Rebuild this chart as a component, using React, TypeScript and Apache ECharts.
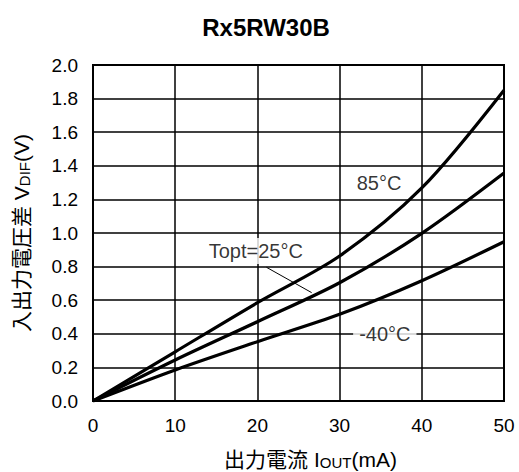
import React, { useEffect, useRef } from "react";
import * as echarts from "echarts";

const xValues = [0, 10, 20, 30, 40, 50];
const v85 = [0, 0.293, 0.585, 0.863, 1.268, 1.85];
const v25 = [0, 0.244, 0.472, 0.704, 0.998, 1.357];
const vm40 = [0, 0.185, 0.353, 0.516, 0.716, 0.948];
const labels = [
  { text: "85°C", x: 34.8, y: 1.298 },
  { text: "Topt=25°C", x: 19.8, y: 0.893 },
  { text: "-40°C", x: 35.5, y: 0.399 },
];
const leader = [
  [21.1, 0.796],
  [26.6, 0.645],
];

const FONT = "'Liberation Sans', Arial, 'Noto Sans CJK JP', sans-serif";

export default function App() {
  const ref = useRef<HTMLDivElement>(null);
  useEffect(() => {
    if (!ref.current) return;
    const chart = echarts.init(ref.current, null, { renderer: "svg" });
    const mk = (vals: number[]) => xValues.map((x, i) => [x, vals[i]]);
    const lineSeries = (vals: number[]) => ({
      type: "line",
      data: mk(vals),
      smooth: 0.3,
      symbol: "none",
      lineStyle: { color: "#000", width: 3.2 },
      z: 3,
    });
    const rich = {
      a: { fontSize: 21, fontFamily: FONT, color: "#000", lineHeight: 23, verticalAlign: "bottom" },
      s: { fontSize: 15, fontFamily: FONT, color: "#000", lineHeight: 19, verticalAlign: "bottom" },
    };
    chart.setOption({
      animation: false,
      backgroundColor: "#fff",
      title: {
        text: "Rx5RW30B",
        left: 261,
        textAlign: "center",
        top: 10,
        textStyle: { fontFamily: FONT, fontSize: 24, fontWeight: "bold", color: "#000" },
      },
      grid: {
        left: 93,
        right: 15,
        top: 65,
        bottom: 71,
        outerBoundsMode: "none",
        containLabel: false,
        show: true,
        borderColor: "#000",
        borderWidth: 2,
        backgroundColor: "transparent",
      },
      xAxis: {
        type: "value",
        min: 0,
        max: 50,
        interval: 10,
        axisLine: { show: true, lineStyle: { color: "#000", width: 2 } },
        axisTick: { show: false },
        axisLabel: { color: "#000", fontSize: 19, fontFamily: FONT, margin: 15 },
        splitLine: { show: true, lineStyle: { color: "#000", width: 1.5 } },
        name: "{a|出力電流 I}{s|OUT}{a|(mA)}",
        nameLocation: "middle",
        nameGap: 46,
        nameTextStyle: { rich, padding: [0, 0, 0, 24] },
      },
      yAxis: {
        type: "value",
        min: 0,
        max: 2,
        interval: 0.2,
        axisLine: { show: true, lineStyle: { color: "#000", width: 2 } },
        axisTick: { show: false },
        axisLabel: {
          color: "#000",
          fontSize: 19,
          fontFamily: FONT,
          margin: 15,
          formatter: (v: number) => v.toFixed(1),
        },
        splitLine: { show: true, lineStyle: { color: "#000", width: 1.5 } },
        name: "{a|入出力電圧差 V}{s|DIF}{a|(V)}",
        nameLocation: "middle",
        nameRotate: 90,
        nameGap: 61,
        nameTextStyle: { rich },
      },
      series: [
        lineSeries(v85),
        lineSeries(v25),
        lineSeries(vm40),
        {
          type: "line",
          data: leader,
          symbol: "none",
          lineStyle: { color: "#000", width: 1 },
          z: 2,
        },
        {
          type: "scatter",
          data: labels.map((l) => ({ value: [l.x, l.y], name: l.text })),
          symbolSize: 0,
          z: 4,
          label: {
            show: true,
            position: "inside",
            formatter: (p: any) => p.name,
            color: "#000",
            fontSize: 20,
            fontFamily: FONT,
            backgroundColor: "#fff",
            padding: [3, 6, 3, 6],
          },
        },
      ],
    });
    return () => chart.dispose();
  }, []);
  return (
    <div
      ref={ref}
      style={{ position: "fixed", left: 0, top: 0, width: 519, height: 472, background: "#fff" }}
    />
  );
}
